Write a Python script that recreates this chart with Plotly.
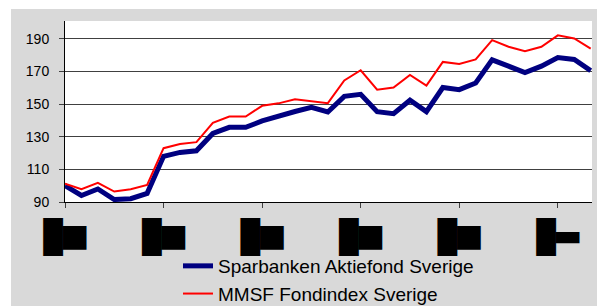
import plotly.graph_objects as go

# period index (bi-monthly observations)
periods = list(range(33))
sparbanken = [100, 94, 98, 91.5, 92, 95.3,
              118, 120.4, 121.4, 132, 135.8, 135.8,
              139.7, 142.8, 145.5, 148, 145.2, 154.8,
              156, 145.4, 144.2, 152.4, 145.4, 160.2,
              158.9, 163, 177.2, 173.3, 169.4, 173.3,
              178.6, 177.4, 170.6]
mmsf = [101.3, 97.8, 101.7, 96.4, 97.8, 100.5,
        123, 125.5, 126.7, 138.5, 142.4, 142.4,
        149, 150.5, 153, 151.8, 150.6, 164.5,
        170.8, 158.9, 160.2, 167.9, 161.4, 175.9,
        174.7, 177.4, 189.3, 185.2, 182.5, 185.2,
        192.2, 190.3, 184]
tick_positions = [0, 6, 12, 18, 24, 30]
tick_labels = ["█<span style='font-size:40px'>■</span>"] * 5 + \
              ["█<span style='font-size:40px'>▬</span>"]
y_ticks = [90, 110, 130, 150, 170, 190]

W, H = 600, 306
L, R, T, B = 65, 8, 21, 104
pw, ph = W - L - R, H - T - B

def px_x(p):
    return (p - L) / pw

def px_y(p):
    return (H - B - p) / ph

fig = go.Figure()
fig.add_trace(go.Scatter(x=periods, y=sparbanken, mode="lines",
                         name="Sparbanken Aktiefond Sverige",
                         line=dict(color="#000080", width=5)))
fig.add_trace(go.Scatter(x=periods, y=mmsf, mode="lines",
                         name="MMSF Fondindex Sverige",
                         line=dict(color="#ff0000", width=2)))

fig.update_layout(
    width=W, height=H,
    margin=dict(l=L, r=R, t=T, b=B, pad=0, autoexpand=False),
    paper_bgcolor="white",
    plot_bgcolor="white",
    font=dict(family="Liberation Sans, Arial", color="black"),
    shapes=[
        dict(type="rect", xref="paper", yref="paper", layer="below",
             x0=px_x(11), x1=px_x(597), y0=px_y(307), y1=px_y(9),
             fillcolor="#d9d9d9", line=dict(width=0)),
        dict(type="rect", xref="paper", yref="paper", layer="below",
             x0=0, x1=1, y0=0, y1=1,
             fillcolor="white", line=dict(width=0)),
    ],
    showlegend=True,
    legend=dict(orientation="v", x=px_x(178), xanchor="left",
                y=px_y(247), yanchor="top",
                bgcolor="rgba(0,0,0,0)",
                font=dict(family="Liberation Sans, Arial", size=19, color="black"),
                tracegroupgap=0),
)
fig.update_xaxes(range=[0, 32.08], tickmode="array", tickvals=tick_positions,
                 ticktext=tick_labels, showgrid=False, zeroline=False,
                 showline=True, linecolor="black", linewidth=1,
                 ticks="outside", ticklen=5, tickcolor="#404040",
                 tickfont=dict(family="DejaVu Sans Mono", size=32, color="black"),
                 ticklabelstandoff=2, automargin=False)
fig.update_yaxes(range=[90, 201], tickvals=y_ticks, showgrid=True,
                 gridcolor="#404040", gridwidth=1, zeroline=False,
                 showline=True, linecolor="black", linewidth=1,
                 ticks="outside", ticklen=5, tickcolor="#404040",
                 tickfont=dict(family="Liberation Sans, Arial", size=14, color="black"),
                 ticklabelstandoff=7, automargin=False)

fig.write_html("out.html", config={"displayModeBar": False},
               post_script="document.body.style.margin='0';")
